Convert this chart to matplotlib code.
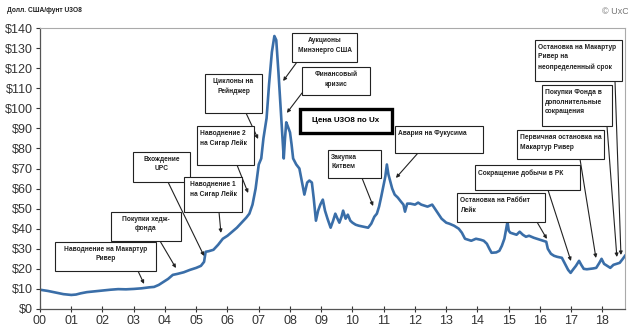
import numpy as np
import matplotlib.pyplot as plt
from matplotlib.patches import Rectangle

plt.rcParams['font.family'] = ['Liberation Sans', 'DejaVu Sans']

# Спотовая цена U3O8 (долл. США/фунт)
years = [2000.00, 2000.25, 2000.50, 2000.75, 2001.00, 2001.15, 2001.30, 2001.50, 2001.75,
         2002.00, 2002.25, 2002.50, 2002.75, 2003.00, 2003.25, 2003.50, 2003.65, 2003.80,
         2003.95, 2004.10, 2004.25, 2004.40, 2004.60, 2004.80, 2005.00, 2005.15, 2005.25,
         2005.30, 2005.40, 2005.55, 2005.70, 2005.85, 2006.00, 2006.15, 2006.30, 2006.45,
         2006.60, 2006.70, 2006.80, 2006.90, 2007.00, 2007.08, 2007.15, 2007.25, 2007.33,
         2007.42, 2007.50, 2007.56, 2007.63, 2007.70, 2007.76, 2007.80, 2007.84, 2007.88,
         2007.93, 2008.00, 2008.05, 2008.10, 2008.20, 2008.30, 2008.40, 2008.46, 2008.55,
         2008.62, 2008.70, 2008.76, 2008.83, 2008.90, 2008.97, 2009.05, 2009.12, 2009.20,
         2009.30, 2009.38, 2009.45, 2009.52, 2009.58, 2009.65, 2009.70, 2009.78, 2009.85,
         2009.93, 2010.00, 2010.10, 2010.20, 2010.35, 2010.50, 2010.60, 2010.70, 2010.78,
         2010.85, 2010.92, 2011.00, 2011.05, 2011.10, 2011.15, 2011.20, 2011.27, 2011.35,
         2011.45, 2011.55, 2011.63, 2011.68, 2011.75, 2011.85, 2012.00, 2012.10, 2012.20,
         2012.30, 2012.40, 2012.55, 2012.70, 2012.85, 2013.00, 2013.10, 2013.25, 2013.40,
         2013.50, 2013.60, 2013.70, 2013.80, 2013.95, 2014.10, 2014.20, 2014.30, 2014.38,
         2014.45, 2014.60, 2014.70, 2014.78, 2014.86, 2014.92, 2014.96, 2015.00, 2015.05,
         2015.15, 2015.25, 2015.35, 2015.45, 2015.55, 2015.65, 2015.80, 2015.90, 2016.00,
         2016.10, 2016.20, 2016.25, 2016.35, 2016.45, 2016.55, 2016.70, 2016.80, 2016.90,
         2016.98, 2017.05, 2017.15, 2017.25, 2017.32, 2017.40, 2017.50, 2017.60, 2017.70,
         2017.80, 2017.90, 2017.97, 2018.05, 2018.15, 2018.25, 2018.35, 2018.45, 2018.55,
         2018.65, 2018.72]
prices = [9.6, 9.0, 8.2, 7.4, 7.0, 7.2, 7.8, 8.4, 8.8,
          9.2, 9.6, 9.9, 9.8, 10.0, 10.3, 10.8, 11.0, 12.0,
          13.5, 15.0, 17.0, 17.5, 18.3, 19.5, 20.5, 21.5, 23.5,
          28.5, 28.8, 29.5, 32.0, 35.0, 36.5, 38.5, 40.5, 43.0,
          45.5, 47.5, 52.0, 60.0, 72.0, 75.0, 85.0, 95.0, 112.0,
          128.0, 136.0, 134.0, 118.0, 100.0, 85.0, 75.0, 85.0, 93.0,
          91.0, 88.0, 82.0, 75.0, 72.0, 70.0, 62.0, 57.0, 63.0,
          64.0, 63.0, 55.0, 44.0, 49.0, 52.0, 54.5, 49.0, 45.0,
          40.5, 44.0, 47.5, 45.0, 43.0, 46.0, 49.0, 45.0, 47.0,
          44.0, 43.0, 42.0, 41.5, 41.0, 40.5, 42.5, 46.0, 47.5,
          51.0, 56.0, 62.0, 66.0, 72.0, 67.0, 64.0, 60.0, 57.0,
          55.5, 53.5, 52.0, 48.5, 52.5, 52.5, 52.0, 53.0, 52.0,
          51.5, 51.0, 52.0, 48.5, 45.0, 43.0, 42.5, 41.5, 40.0,
          38.0, 35.0, 34.5, 34.0, 35.0, 34.5, 34.0, 32.5, 30.0,
          28.0, 28.2, 29.0, 31.5, 35.0, 40.0, 43.5, 39.0, 38.0,
          37.5, 37.0, 38.5, 37.0, 36.0, 36.5, 35.5, 35.0, 34.5,
          34.0, 33.5, 30.0, 27.5, 26.5, 26.0, 25.5, 22.5, 19.5,
          18.0, 19.5, 21.5, 24.0, 22.0, 20.0, 19.8, 20.0, 20.2,
          20.5, 23.0, 25.0, 22.5, 21.5, 20.5, 22.0, 22.5, 23.0,
          25.0, 26.5]

tick_years = list(range(2000, 2019))
tick_labels = ['%02d' % (y % 100) for y in tick_years]
y_ticks = list(range(0, 141, 10))
y_labels = ['$%d' % v for v in y_ticks]

# События: текст, рамка (px: x0, y0, x1, y1), выравнивание, начало стрелки (px), дата и цена острия
event_texts = ['Наводнение на Макартур\nРивер', 'Покупки хедж-\nфонда', 'Вхождение\nUPC',
               'Наводнение 1\nна Сигар Лейк', 'Наводнение 2\nна Сигар Лейк', 'Циклоны на\nРейнджер',
               'Аукционы\nМинэнерго США', 'Финансовый\nкризис', 'Закупка\nКитвем',
               'Авария на Фукусима', 'Остановка на Раббит\nЛейк', 'Сокращение добычи в РК',
               'Первичная остановка на\nМакартур Ривер',
               'Покупки Фонда в\nдополнительные\nсокращения',
               'Остановка на Макартур\nРивер на\nнеопределенный срок']
event_boxes = [(55, 242, 156, 271), (111, 212, 181, 241), (133, 152, 190, 182),
               (184, 177, 242, 212), (197, 126, 254, 165), (205, 74, 262, 113),
               (292, 33, 357, 62), (302, 67, 370, 95), (328, 150, 381, 178),
               (395, 126, 483, 153), (457, 193, 545, 222), (475, 165, 580, 190),
               (517, 130, 604, 159), (542, 85, 612, 126), (535, 40, 622, 81)]
event_align = ['center', 'center', 'center', 'center', 'left', 'center',
               'center', 'center', 'left', 'left', 'left', 'left',
               'left', 'left', 'left']
arrow_from = [(138, 271), (160, 241), (168, 182), (219, 212), (237, 165), (246, 113),
              (297, 62), (302, 93), (362, 178), (418, 153), (537, 222), (548, 190),
              (580, 159), (607, 126), (615, 81)]
event_dates = [2003.33, 2004.35, 2005.25, 2005.79, 2006.66, 2006.98, 2007.78, 2007.90,
               2010.66, 2011.39, 2016.22, 2016.99, 2017.79, 2018.46, 2018.59]
arrow_tip_prices = [12.5, 20.4, 26.4, 37.9, 57.8, 84.7, 113.6, 97.7, 51.3, 65.3,
                    34.9, 23.9, 25.4, 25.9, 26.9]

W, H = 628, 327
fig = plt.figure(figsize=(W / 100, H / 100), dpi=100)
ax = fig.add_axes([40 / W, 1 - 309 / H, 585 / W, 281 / H])

ax.plot(years, prices, color='#3a6ea8', lw=1.9, solid_joinstyle='round')

ax.set_xlim(2000, 2018.72)
ax.set_ylim(0, 140)
ax.set_xticks(tick_years)
ax.set_xticklabels(tick_labels)
ax.set_yticks(y_ticks)
ax.set_yticklabels(y_labels)
ax.tick_params(axis='x', direction='inout', length=5, width=0.8, labelsize=9,
               colors='#333333', pad=2)
ax.tick_params(axis='y', direction='out', length=3, width=0.8, labelsize=9,
               colors='#333333', pad=2)
for side in ['left', 'bottom']:
    ax.spines[side].set_color('#555555')
    ax.spines[side].set_linewidth(0.9)
for side in ['top', 'right']:
    ax.spines[side].set_color('#aaaaaa')
    ax.spines[side].set_linewidth(0.8)


def fig_xy(px, py):
    return px / W, 1 - py / H


for txt, (x0, y0, x1, y1), al, (sx, sy), d, p in zip(
        event_texts, event_boxes, event_align, arrow_from, event_dates, arrow_tip_prices):
    bx, by = fig_xy(x0, y1)
    fig.patches.append(Rectangle((bx, by), (x1 - x0) / W, (y1 - y0) / H,
                                 transform=fig.transFigure, facecolor='white',
                                 edgecolor='#222222', lw=0.8, zorder=3))
    if al == 'center':
        tx, ty = fig_xy((x0 + x1) / 2, y0 + 4)
    else:
        tx, ty = fig_xy(x0 + 3, y0 + 4)
    fig.text(tx, ty, txt, ha=al, va='top', fontsize=4.8, fontweight='bold',
             linespacing=1.5, color='#222222', zorder=4)
    ax.annotate('', xy=(d, p), xytext=(sx, H - sy), textcoords='figure pixels',
                arrowprops=dict(arrowstyle='-|>', color='#222222', lw=0.8,
                                mutation_scale=5, shrinkA=0, shrinkB=0),
                zorder=5, annotation_clip=False)

# Рамка с названием ряда
bx, by = fig_xy(300, 133)
fig.patches.append(Rectangle((bx, by), 92 / W, 24 / H, transform=fig.transFigure,
                             facecolor='white', edgecolor='black', lw=2.4, zorder=3))
tx, ty = fig_xy(346, 121)
fig.text(tx, ty, 'Цена U3O8 по Ux', ha='center', va='center', fontsize=5.8,
         fontweight='bold', zorder=4)

fig.text(7 / W, 1 - 11 / H, 'Долл. США/фунт U3O8', ha='left', va='center',
         fontsize=4.8, fontweight='bold', color='#222222')
fig.text(602 / W, 1 - 12 / H, '© UxC', ha='left', va='center', fontsize=6.5,
         color='#777777')

fig.savefig('out.png', dpi=100)
